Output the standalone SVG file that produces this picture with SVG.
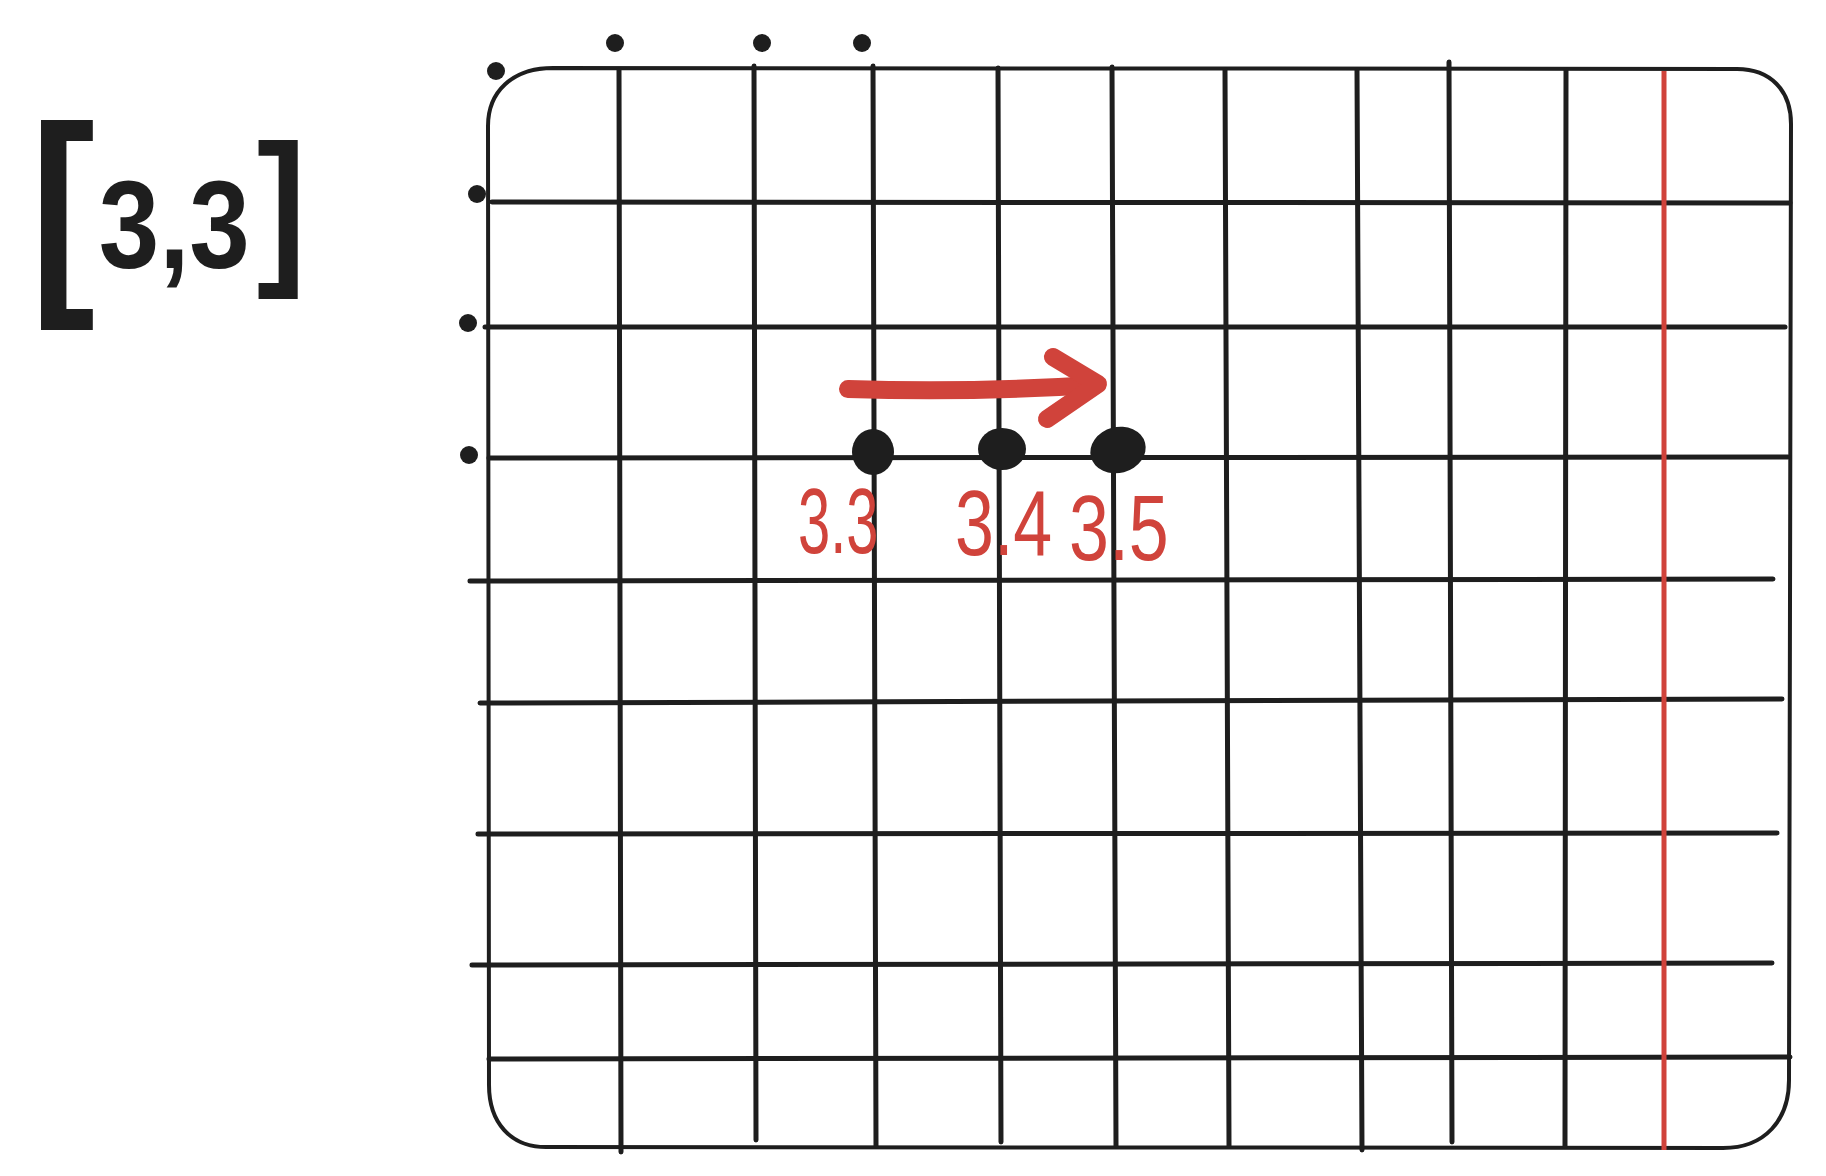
<svg xmlns="http://www.w3.org/2000/svg" width="1826" height="1176" viewBox="0 0 1826 1176">
<defs>
<style>
.g{stroke:#1e1e1e;stroke-width:5;fill:none;stroke-linecap:round}
.fr{stroke:#1e1e1e;stroke-width:4;fill:none}
.red{stroke:#d0433b;fill:none;stroke-linecap:round;stroke-linejoin:round}
.dot{fill:#1e1e1e}
.lbl{fill:#d0433b;font-family:"Liberation Sans",Arial,sans-serif;font-size:92px}
.blk{fill:#1e1e1e;font-family:"Liberation Sans",Arial,sans-serif;font-weight:bold}
</style>
</defs>
<rect width="1826" height="1176" fill="#ffffff"/>
<g id="frame">
<path class="fr" d="M553 68 L1737 69 C1770 69 1791 90 1791 124 L1789 1080 C1789 1120 1765 1148 1723 1148 L546 1147 C510 1147 489 1122 489 1085 L488 126 C488 92 512 68 553 68 Z"/>
</g>
<g id="grid">
<line class="g" x1="619" y1="70" x2="621" y2="1152"/>
<line class="g" x1="754" y1="66" x2="756" y2="1140"/>
<line class="g" x1="873" y1="66" x2="876" y2="1146"/>
<line class="g" x1="998" y1="68" x2="1001" y2="1142"/>
<line class="g" x1="1112" y1="67" x2="1116" y2="1146"/>
<line class="g" x1="1225" y1="70" x2="1229" y2="1146"/>
<line class="g" x1="1357" y1="70" x2="1362" y2="1150"/>
<line class="g" x1="1449" y1="62" x2="1452" y2="1142"/>
<line class="g" x1="1566" y1="70" x2="1565" y2="1146"/>
<line class="g" x1="492" y1="202" x2="1790" y2="203"/>
<line class="g" x1="485" y1="327" x2="1785" y2="327"/>
<line class="g" x1="489" y1="458" x2="1788" y2="457"/>
<line class="g" x1="470" y1="581" x2="1773" y2="579"/>
<line class="g" x1="480" y1="703" x2="1782" y2="699"/>
<line class="g" x1="478" y1="834" x2="1777" y2="833"/>
<line class="g" x1="472" y1="965" x2="1772" y2="963"/>
<line class="g" x1="489" y1="1059" x2="1790" y2="1057"/>
<line x1="1664" y1="71" x2="1664" y2="1150" stroke="#d0433b" stroke-width="5"/>
</g>
<g id="axis-dots">
<circle class="dot" cx="496" cy="71" r="9"/>
<circle class="dot" cx="615" cy="43" r="9"/>
<circle class="dot" cx="762" cy="43" r="9"/>
<circle class="dot" cx="862" cy="43" r="9"/>
<circle class="dot" cx="477" cy="194" r="9"/>
<circle class="dot" cx="468" cy="323" r="9"/>
<circle class="dot" cx="469" cy="455" r="9"/>
</g>
<g id="point-3-3">
<ellipse class="dot" cx="873" cy="452" rx="21" ry="23"/>
<text class="lbl" transform="translate(798 553) scale(0.63 1)">3.3</text>
</g>
<g id="point-3-4">
<ellipse class="dot" cx="1002" cy="449" rx="24" ry="21"/>
<text class="lbl" transform="translate(955 555) scale(0.76 1)">3.4</text>
</g>
<g id="point-3-5">
<ellipse class="dot" cx="1118" cy="450" rx="28" ry="23" transform="rotate(-15 1118 450)"/>
<text class="lbl" transform="translate(1069 560) scale(0.78 1)">3.5</text>
</g>
<g id="title">
<text class="blk" transform="translate(30 283) scale(0.87 1)"><tspan font-size="225">[</tspan><tspan font-size="125" dx="4" dy="-15">3,3</tspan><tspan font-size="170" dx="8" dy="-4">]</tspan></text>
</g>
<g id="connectors">
<path class="red" stroke-width="18" d="M848 389 Q970 393 1094 385"/>
<path class="red" stroke-width="18" d="M1053 357 L1098 384 L1047 419"/>
</g>
</svg>
